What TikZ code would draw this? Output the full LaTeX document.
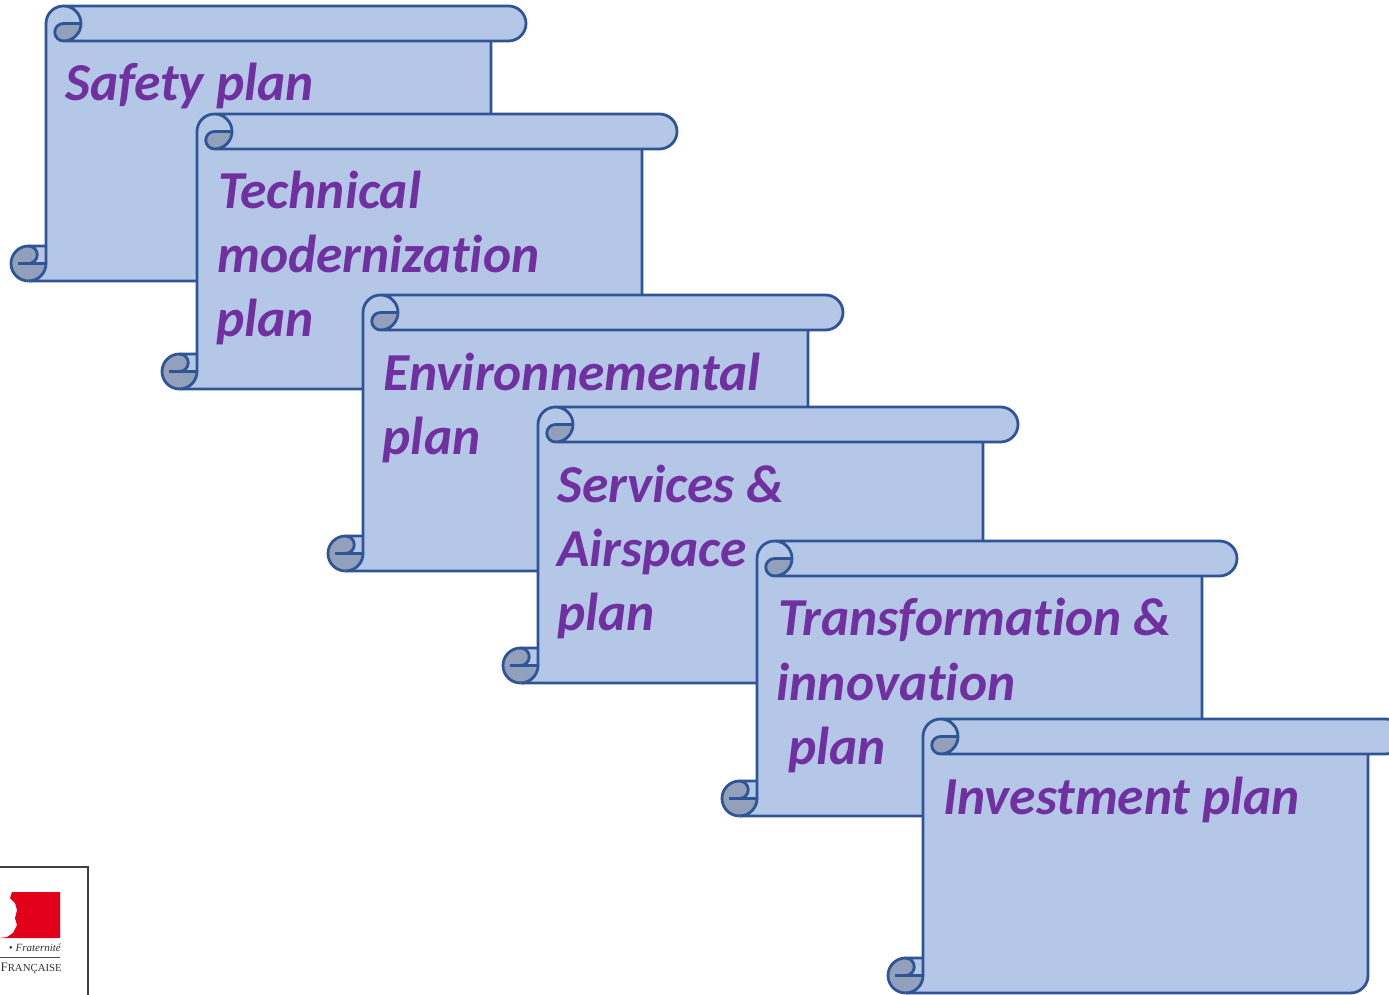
\documentclass[tikz,border=0pt]{standalone}
\usepackage{fontspec}
\setmainfont[Ligatures=NoCommon]{Carlito}
\newfontfamily\logofont{Liberation Serif}
\definecolor{scrollblue}{HTML}{B4C7E7}
\definecolor{scrolledge}{HTML}{2F5597}
\definecolor{scrollgrey}{HTML}{92A0BB}
\definecolor{planpurple}{HTML}{7030A0}
\definecolor{logored}{HTML}{E2001A}
\tikzset{
  scrollfill/.style={fill=scrollblue},
  scrollline/.style={draw=scrolledge,line width=2.8pt,line join=round},
  plantext/.style={anchor=base west,inner sep=0pt,text=planpurple,font=\fontsize{53.4}{64}\selectfont\bfseries\itshape},
  logotext/.style={anchor=base east,inner sep=0pt,text=black!80}
}
% #1 left, #2 top, #3 height
\newcommand{\planscroll}[3]{%
\begin{scope}[shift={(#1,994-#2)}]
  \path[scrollfill] (0,-17.5) arc (180:90:17.5) -- (462.5,0) arc (90:-90:17.5) -- (445,-35)
     -- (445,-#3+17.5) arc (0:-90:17.5) -- (-17.5,-#3) arc (270:90:17.5) -- (0,-#3+35) -- cycle;
  \path[fill=scrollgrey] (17.5,-17.5) arc (90:270:8.75) arc (-90:0:17.5) -- cycle;
  \path[fill=scrollgrey] (-17.5,-#3) arc (270:90:17.5) arc (90:-90:8.75) -- (0,-#3+17.5) arc (0:-90:17.5) -- cycle;
  \draw[scrollline] (0,-#3+17.5) -- (0,-17.5) arc (180:90:17.5) -- (462.5,0) arc (90:-90:17.5) -- (17.5,-35) arc (-90:90:17.5);
  \draw[scrollline] (35,-17.5) -- (17.5,-17.5) arc (90:270:8.75);
  \draw[scrollline] (445,-35) -- (445,-#3+17.5) arc (0:-90:17.5) -- (-17.5,-#3);
  \draw[scrollline] (-17.5,-#3) arc (270:90:17.5) -- (0,-#3+35);
  \draw[scrollline] (-17.5,-#3+35) arc (90:-90:8.75);
  \draw[scrollline] (-28,-#3+17.5) -- (0,-#3+17.5) arc (0:-90:17.5);
\end{scope}}
\begin{document}
\begin{tikzpicture}[x=1pt,y=1pt]
\useasboundingbox (0,0) rectangle (1389,994);
\fill[white] (0,0) rectangle (1389,994);
\begin{scope}
\clip (0,0) rectangle (1389,994);
% logo
\draw[black!75,line width=1.6pt,fill=white] (-5,-5) rectangle (88,127);
\fill[logored] (12,102) -- (60,102) -- (60,56) -- (0,56) -- (7,57) -- (13,61) -- (17,69) -- (15,76) -- (17,84) -- (15,91) -- (10,96) -- cycle;
\draw[black!70,line width=0.6pt] (0,37) -- (60,37);
\node[logotext,font=\logofont\itshape\fontsize{11}{13}\selectfont] (logoa) at (61,42.5) {• Fraternité};
\node[logotext,font=\logofont\fontsize{13}{15}\selectfont] (logob) at (62,23) {F\fontsize{10.8}{13}\selectfont RANÇAISE};
% scrolls
\planscroll{46}{6}{275}
\node[plantext] (safety) at (65,893) {Safety plan};
\planscroll{197}{114}{275}
\node[plantext] (tech1) at (218,785) {Technical};
\node[plantext] (tech2) at (217,721) {modernization};
\node[plantext] (tech3) at (216,657) {plan};
\planscroll{363}{295}{276}
\node[plantext] (env1) at (383.5,603) {Environnemental};
\node[plantext] (env2) at (382.5,539) {plan};
\planscroll{538}{407}{276}
\node[plantext] (serv1) at (557,491) {Services \&};
\node[plantext] (serv2) at (557,427) {Airspace};
\node[plantext] (serv3) at (557,363) {plan};
\planscroll{757}{541}{275}
\node[plantext] (trans1) at (778,358) {Transformation \&};
\node[plantext] (trans2) at (776.5,294) {innovation};
\node[plantext] (trans3) at (788,230) {plan};
\planscroll{923}{719}{274}
\node[plantext] (inv) at (943,180) {Investment plan};
\end{scope}
\end{tikzpicture}
\end{document}
